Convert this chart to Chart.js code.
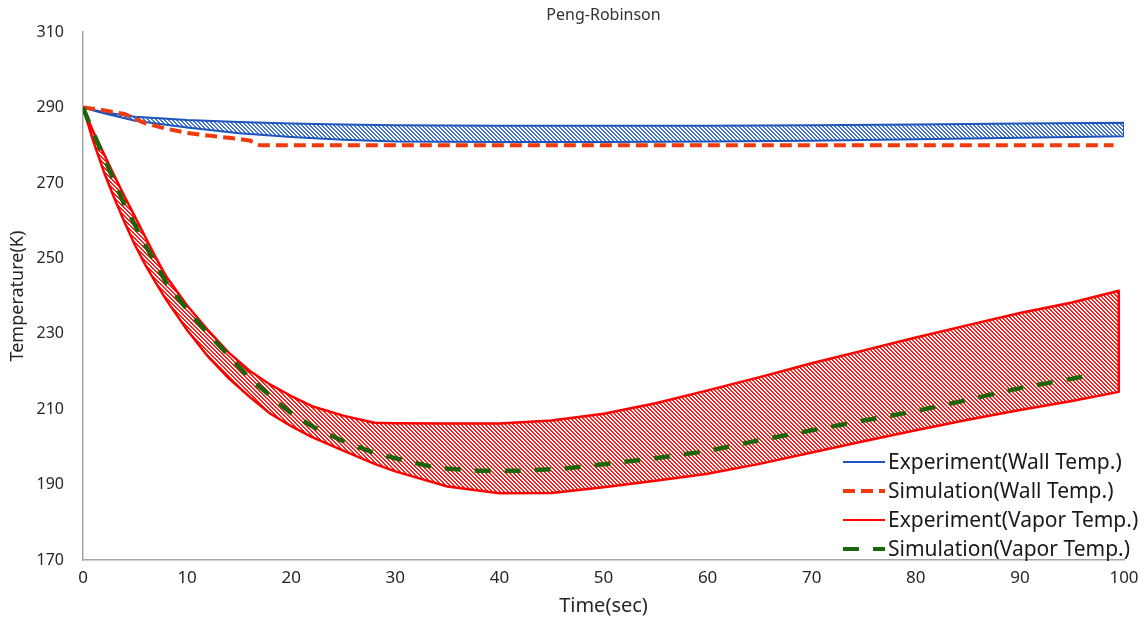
<!DOCTYPE html>
<html>
<head>
<meta charset="utf-8">
<title>Peng-Robinson</title>
<script src="https://cdn.jsdelivr.net/npm/chart.js@4.4.1/dist/chart.umd.min.js"></script>
<style>
    html, body { margin: 0; padding: 0; background: #fff; }
    #wrap { width: 1147px; height: 622px; }
</style>
</head>
<body>
<div id="wrap"><canvas id="myChart" width="1147" height="622"></canvas></div>
<script>
// values (time in sec, temperature in K)
const wallTime = [0, 2, 5, 10, 15, 20, 25, 30, 40, 50, 60, 70, 80, 90, 100];
const wallExpUpper = [290, 288.8, 287.6, 286.7, 286.2, 285.8, 285.5, 285.3, 285.2, 285.2, 285.2, 285.3, 285.5, 285.8, 286.0];
const wallExpLower = [290, 288.5, 286.5, 284.7, 283.2, 282.2, 281.5, 281.0, 280.9, 280.9, 281.0, 281.2, 281.6, 282.0, 282.4];

const wallSimTime = [0, 2, 4, 6, 8, 10, 12, 14, 16, 17, 20, 30, 40, 50, 60, 70, 80, 90, 99];
const wallSim = [290, 289.3, 288.3, 285.8, 284.4, 283.3, 282.6, 282.0, 281.3, 280.0, 280, 280, 280, 280, 280, 280, 280, 280, 280];

const vaporTime = [0, 1, 2, 3, 4, 5, 6, 7, 8, 10, 12, 14, 16, 18, 20, 22, 25, 28, 30, 35, 40, 45, 50, 55, 60, 65, 70, 75, 80, 85, 90, 95, 99.5];
const vaporExpUpper = [290, 283.5, 277.8, 272, 266.4, 261, 255.6, 250.2, 245.2, 237.5, 231, 225, 220.2, 216.5, 213.5, 210.8, 208.3, 206.4, 206.3, 206.2, 206.2, 207, 208.8, 211.6, 215, 218.5, 222.2, 225.6, 229, 232.3, 235.5, 238.3, 241.4];
const vaporExpLower = [290, 281, 273, 266, 259.5, 253.5, 248.2, 243.5, 239, 231, 224, 218.2, 213.3, 208.8, 205.5, 202.6, 199, 195.5, 193.5, 189.5, 187.7, 187.8, 189.3, 191, 192.9, 195.5, 198.5, 201.5, 204.4, 207.2, 209.8, 212.2, 214.6];

const vaporSimTime = [0, 1, 2, 4, 6, 8, 10, 12, 14, 16, 18, 20, 22, 25, 28, 30, 34, 38, 42, 46, 50, 55, 60, 65, 70, 75, 80, 85, 90, 95, 97];
const vaporSim = [290, 283.3, 276.9, 264.1, 253.5, 243.5, 236.5, 230.1, 224.2, 218.3, 213.5, 208.9, 205.5, 201.5, 198.4, 197, 194.4, 193.7, 193.7, 194.2, 195.4, 197, 198.9, 201.8, 204.4, 207, 209.5, 212.5, 215.6, 218.1, 219.2];

const xTicks = [0, 10, 20, 30, 40, 50, 60, 70, 80, 90, 100];
const yTicks = [170, 190, 210, 230, 250, 270, 290, 310];

const FONT = "'Noto Sans', 'DejaVu Sans', sans-serif";

// diagonal "\" hatch, drawn pixel by pixel so the stripes stay crisp
function hatch(rgb, period, on) {
    const c = document.createElement('canvas');
    c.width = period;
    c.height = period;
    const g = c.getContext('2d');
    const img = g.createImageData(period, period);
    for (let j = 0; j < period; j++) {
        for (let i = 0; i < period; i++) {
            const k = (j * period + i) * 4;
            const stripe = ((i - j) % period + period) % period < on;
            img.data[k] = stripe ? rgb[0] : 255;
            img.data[k + 1] = stripe ? rgb[1] : 255;
            img.data[k + 2] = stripe ? rgb[2] : 255;
            img.data[k + 3] = 255;
        }
    }
    g.putImageData(img, 0, 0);
    return g.createPattern(c, 'repeat');
}

function points(time, vals) {
    return time.map((t, i) => ({ x: t, y: vals[i] }));
}

// upper edge forward, lower edge back -> one closed shape
function band(time, upper, lower) {
    const pts = points(time, upper);
    for (let i = time.length - 1; i >= 0; i--) {
        pts.push({ x: time[i], y: lower[i] });
    }
    return pts;
}

// legend inside the plot, bottom right
const cornerLegend = {
    id: 'cornerLegend',
    afterDraw(chart) {
        const c = chart.ctx;
        const x0 = 843, x1 = 885;
        let y = 462;
        c.save();
        chart.data.datasets.forEach(ds => {
            c.beginPath();
            c.setLineDash(ds.borderDash || []);
            c.strokeStyle = ds.borderColor;
            c.lineWidth = ds.legendWidth;
            c.moveTo(x0, y);
            c.lineTo(x1, y);
            c.stroke();
            c.setLineDash([]);
            c.fillStyle = '#1a1a1a';
            c.font = '21px ' + FONT;
            c.textBaseline = 'middle';
            c.textAlign = 'left';
            c.fillText(ds.label, x1 + 3, y + 1);
            y += 29;
        });
        c.restore();
    }
};

const ctx = document.getElementById('myChart').getContext('2d');
const myChart = new Chart(ctx, {
    type: 'line',
    data: {
        datasets: [{
            label: 'Experiment(Wall Temp.)',
            data: band(wallTime, wallExpUpper, wallExpLower),
            borderColor: '#1f55bb',
            borderWidth: 2,
            legendWidth: 2,
            backgroundColor: hatch([70, 120, 205], 4, 2),
            fill: 'shape',
            order: 3
        }, {
            label: 'Simulation(Wall Temp.)',
            data: points(wallSimTime, wallSim),
            borderColor: '#f03a0e',
            borderWidth: 4,
            legendWidth: 4,
            borderDash: [12, 6],
            fill: false,
            order: 1
        }, {
            label: 'Experiment(Vapor Temp.)',
            data: band(vaporTime, vaporExpUpper, vaporExpLower),
            borderColor: '#ff0000',
            borderWidth: 2.5,
            legendWidth: 2,
            backgroundColor: hatch([255, 30, 30], 4, 2),
            fill: 'shape',
            order: 2
        }, {
            label: 'Simulation(Vapor Temp.)',
            data: points(vaporSimTime, vaporSim),
            borderColor: '#1b650c',
            borderWidth: 4.5,
            legendWidth: 4,
            borderDash: [16, 14],
            fill: false,
            order: 0
        }]
    },
    options: {
        responsive: false,
        devicePixelRatio: 1,
        animation: false,
        layout: { padding: { top: 0, right: 23, bottom: 0, left: 0 } },
        elements: {
            point: { radius: 0 },
            line: { tension: 0, borderJoinStyle: 'round' }
        },
        plugins: {
            legend: { display: false },
            tooltip: { enabled: false },
            title: {
                display: true,
                text: 'Peng-Robinson',
                fullSize: false,
                color: '#333333',
                font: { family: FONT, size: 16, weight: 'normal' },
                padding: { top: 6, bottom: 7 }
            }
        },
        scales: {
            x: {
                type: 'linear',
                min: 0,
                max: 100,
                afterBuildTicks: s => { s.ticks = xTicks.map(v => ({ value: v })); },
                afterFit: s => { s.height = 62; },
                grid: { display: false, drawTicks: false },
                border: { display: true, color: '#a6a6a6', width: 1.5 },
                ticks: { color: '#262626', font: { family: FONT, size: 17 }, padding: 8, maxRotation: 0 },
                title: {
                    display: true,
                    text: 'Time(sec)',
                    color: '#262626',
                    font: { family: FONT, size: 20 },
                    padding: { top: 0, bottom: 4 }
                }
            },
            y: {
                type: 'linear',
                min: 170,
                max: 310,
                afterBuildTicks: s => { s.ticks = yTicks.map(v => ({ value: v })); },
                afterFit: s => { s.width = 83; },
                grid: { display: false, drawTicks: false },
                border: { display: true, color: '#a6a6a6', width: 1.5 },
                ticks: { color: '#262626', font: { family: FONT, size: 16 }, padding: 19 },
                title: {
                    display: true,
                    text: 'Temperature(K)',
                    color: '#262626',
                    font: { family: FONT, size: 18 },
                    padding: { top: 7, bottom: 0 }
                }
            }
        }
    },
    plugins: [cornerLegend]
});
</script>
</body>
</html>
